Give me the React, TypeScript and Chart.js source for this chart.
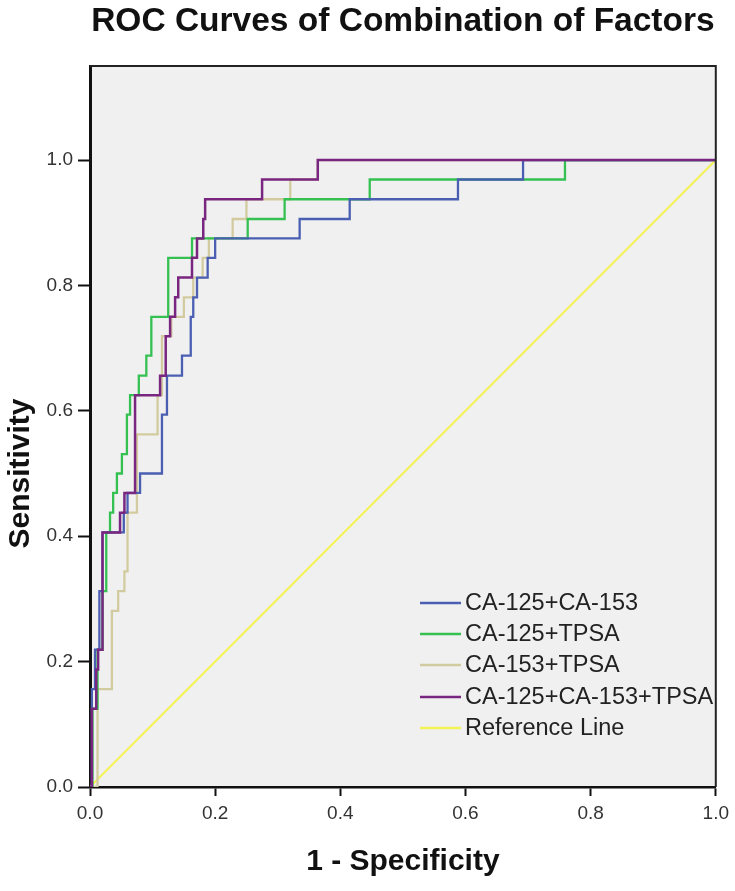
import React, { useEffect, useRef } from "react";
import { Chart, registerables } from "chart.js";

Chart.register(...registerables);

const TITLE = "ROC Curves of Combination of Factors";
const X_TITLE = "1 - Specificity";
const Y_TITLE = "Sensitivity";
const X_TICKS = [0, 0.2, 0.4, 0.6, 0.8, 1.0];
const Y_TICKS = [0, 0.2, 0.4, 0.6, 0.8, 1.0];

const SERIES_LABELS = ["CA-125+CA-153", "CA-125+TPSA", "CA-153+TPSA", "CA-125+CA-153+TPSA", "Reference Line"];
const SERIES_COLORS = ["#4a5fb2", "#35c052", "#d3cba0", "#78267f", "#f3f356"];

// step points: at x the curve rises to y
const BLUE_X = [0, 0.003, 0.008, 0.015, 0.02, 0.054, 0.06, 0.08, 0.115, 0.123, 0.147, 0.161, 0.165, 0.171, 0.188, 0.2, 0.335, 0.415, 0.588, 0.692, 1];
const BLUE_Y = [0, 0.156, 0.219, 0.3125, 0.406, 0.4375, 0.469, 0.5, 0.594, 0.656, 0.688, 0.75, 0.781, 0.8125, 0.844, 0.875, 0.906, 0.9375, 0.969, 1, 1];

const GREEN_X = [0, 0.004, 0.012, 0.02, 0.026, 0.032, 0.037, 0.043, 0.051, 0.059, 0.064, 0.078, 0.09, 0.098, 0.125, 0.163, 0.252, 0.311, 0.447, 0.759, 1];
const GREEN_Y = [0, 0.125, 0.219, 0.3125, 0.406, 0.4375, 0.469, 0.5, 0.531, 0.594, 0.625, 0.656, 0.688, 0.75, 0.844, 0.875, 0.906, 0.9375, 0.969, 1, 1];

const BEIGE_X = [0, 0.012, 0.035, 0.045, 0.055, 0.06, 0.075, 0.108, 0.115, 0.13, 0.15, 0.165, 0.18, 0.19, 0.228, 0.25, 0.32, 0.364, 1];
const BEIGE_Y = [0, 0.156, 0.281, 0.3125, 0.344, 0.4375, 0.5625, 0.625, 0.719, 0.75, 0.781, 0.8125, 0.844, 0.875, 0.906, 0.9375, 0.969, 1, 1];

const PURPLE_X = [0, 0.003, 0.01, 0.013, 0.02, 0.048, 0.055, 0.072, 0.112, 0.121, 0.128, 0.136, 0.141, 0.163, 0.171, 0.181, 0.184, 0.275, 0.364, 1];
const PURPLE_Y = [0, 0.125, 0.1875, 0.219, 0.406, 0.4375, 0.469, 0.625, 0.656, 0.719, 0.75, 0.781, 0.8125, 0.844, 0.875, 0.906, 0.9375, 0.969, 1, 1];

const REF_X = [0, 1];
const REF_Y = [0, 1];

const FONT = "'Liberation Sans', Arial, Helvetica, sans-serif";

const toPoints = (xs: number[], ys: number[]) => xs.map((x, i) => ({ x, y: ys[i] }));

const decorPlugin = {
  id: "decor",
  beforeDraw(chart: any) {
    const { ctx, chartArea: a } = chart;
    ctx.save();
    ctx.fillStyle = "#f0f0f0";
    ctx.fillRect(a.left, a.top, a.right - a.left, a.bottom - a.top);
    ctx.restore();
  },
  afterDraw(chart: any) {
    const { ctx, chartArea: a, scales } = chart;
    ctx.save();
    // frame top/right
    ctx.strokeStyle = "#222";
    ctx.lineWidth = 2;
    ctx.beginPath();
    ctx.moveTo(a.left, a.top);
    ctx.lineTo(a.right, a.top);
    ctx.lineTo(a.right, a.bottom);
    ctx.stroke();

    // title
    ctx.fillStyle = "#111";
    ctx.textAlign = "center";
    ctx.textBaseline = "alphabetic";
    ctx.font = `bold 33.5px ${FONT}`;
    ctx.fillText(TITLE, (a.left + a.right) / 2, 31);

    // x title
    ctx.font = `bold 30px ${FONT}`;
    ctx.fillText(X_TITLE, (a.left + a.right) / 2, 870);

    // y title centered on 0..1 range
    const y0 = scales.y.getPixelForValue(0);
    const y1 = scales.y.getPixelForValue(1);
    ctx.save();
    ctx.translate(29, (y0 + y1) / 2);
    ctx.rotate(-Math.PI / 2);
    ctx.fillText(Y_TITLE, 0, 0);
    ctx.restore();

    // legend
    const rows = [603, 634, 665, 697, 728];
    ctx.font = `23.5px ${FONT}`;
    ctx.textAlign = "left";
    ctx.textBaseline = "middle";
    SERIES_LABELS.forEach((lab, i) => {
      const yy = rows[i];
      ctx.strokeStyle = SERIES_COLORS[i];
      ctx.lineWidth = 2.5;
      ctx.beginPath();
      ctx.moveTo(420, yy);
      ctx.lineTo(461, yy);
      ctx.stroke();
      ctx.fillStyle = "#222";
      ctx.fillText(lab, 465, yy + 1);
    });
    ctx.restore();
  },
};

export default function App() {
  const ref = useRef<HTMLCanvasElement | null>(null);
  useEffect(() => {
    if (!ref.current) return;
    const mk = (i: number, xs: number[], ys: number[], order: number, stepped: any, width: number) => ({
      label: SERIES_LABELS[i],
      data: toPoints(xs, ys),
      borderColor: SERIES_COLORS[i],
      backgroundColor: SERIES_COLORS[i],
      borderWidth: width,
      pointRadius: 0,
      showLine: true,
      stepped,
      order,
      fill: false,
    });
    const chart = new Chart(ref.current, {
      type: "scatter",
      data: {
        datasets: [
          mk(0, BLUE_X, BLUE_Y, 2, "before", 2.3),
          mk(1, GREEN_X, GREEN_Y, 3, "before", 2.3),
          mk(2, BEIGE_X, BEIGE_Y, 4, "before", 2.3),
          mk(3, PURPLE_X, PURPLE_Y, 1, "before", 2.5),
          mk(4, REF_X, REF_Y, 5, false, 2),
        ] as any,
      },
      options: {
        animation: false,
        responsive: false,
        devicePixelRatio: 1,
        layout: { padding: { top: 66, right: 19, bottom: 0, left: 0 } },
        plugins: { legend: { display: false }, tooltip: { enabled: false }, title: { display: false } },
        scales: {
          x: {
            type: "linear",
            min: 0,
            max: 1,
            afterBuildTicks: (s: any) => {
              s.ticks = X_TICKS.map((v) => ({ value: v }));
            },
            afterFit: (s: any) => {
              s.height = 104;
            },
            ticks: {
              callback: (v: any) => Number(v).toFixed(1),
              font: { size: 19, family: FONT },
              color: "#333",
              padding: 6,
              maxRotation: 0,
              autoSkip: false,
            },
            grid: { drawOnChartArea: false, drawTicks: true, tickLength: 9, tickWidth: 2, tickColor: "#111" },
            border: { display: true, color: "#111", width: 2.5 },
          },
          y: {
            type: "linear",
            min: 0,
            max: 1.15,
            afterBuildTicks: (s: any) => {
              s.ticks = Y_TICKS.map((v) => ({ value: v }));
            },
            afterFit: (s: any) => {
              s.width = 90;
            },
            ticks: {
              callback: (v: any) => Number(v).toFixed(1),
              font: { size: 19, family: FONT },
              color: "#333",
              padding: 5,
              autoSkip: false,
            },
            grid: { drawOnChartArea: false, drawTicks: true, tickLength: 12, tickWidth: 2, tickColor: "#111" },
            border: { display: true, color: "#111", width: 3 },
          },
        },
      },
      plugins: [decorPlugin],
    } as any);
    return () => chart.destroy();
  }, []);
  return (
    <div style={{ position: "absolute", left: 0, top: 0, width: 735, height: 891, background: "#fff" }}>
      <canvas ref={ref} width={735} height={891} style={{ display: "block" }} />
    </div>
  );
}
